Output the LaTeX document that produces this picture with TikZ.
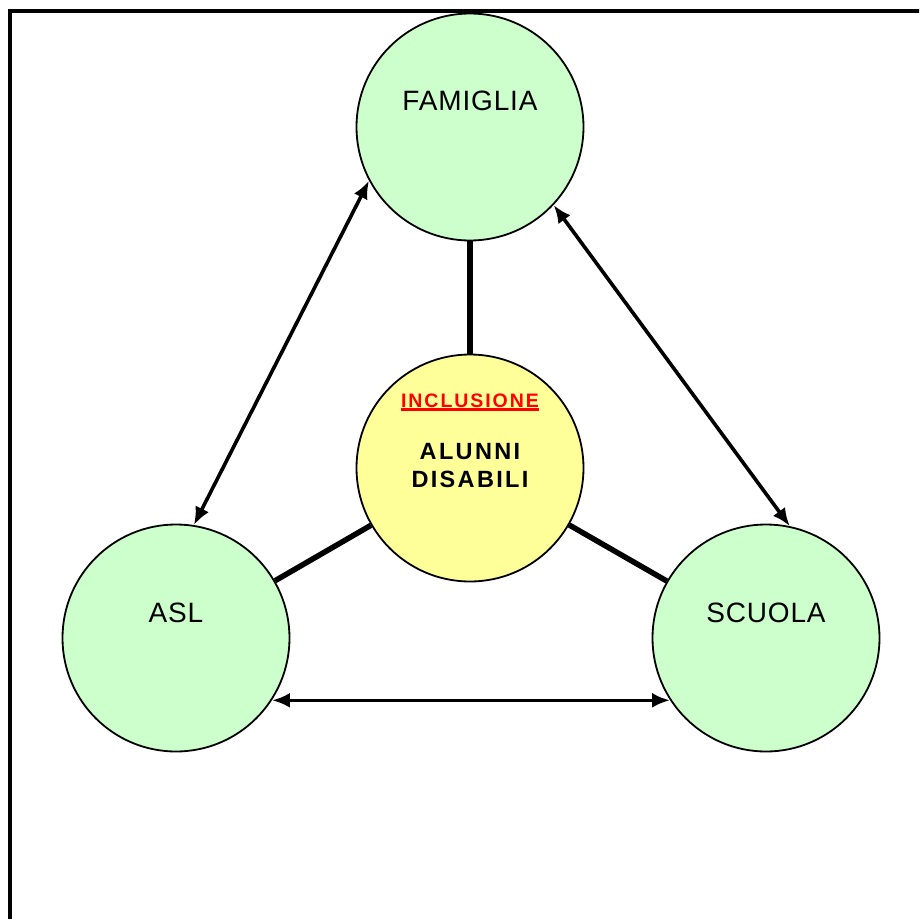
\documentclass[tikz,border=0pt]{standalone}
\usepackage{fontspec}
\setmainfont{Liberation Sans}
\newfontfamily\lsA[LetterSpace=3]{Liberation Sans}
\newfontfamily\lsB[LetterSpace=10]{Liberation Sans}
\usetikzlibrary{arrows.meta}
\definecolor{lgreen}{HTML}{CCFFCC}
\definecolor{lyellow}{HTML}{FFFF99}
\tikzset{
  outer/.style={circle, draw=black, line width=1.8pt, fill=lgreen, minimum size=227pt, inner sep=0pt},
  inner/.style={circle, draw=black, line width=1.8pt, fill=lyellow, minimum size=227pt, inner sep=0pt},
  link/.style={line width=5.5pt},
  dbl/.style={line width=3.6pt, {Latex[length=18pt,width=15pt]}-{Latex[length=18pt,width=15pt]}},
  lab/.style={anchor=base, inner sep=0pt, font=\lsA\fontsize{28}{30}\selectfont, text=black},
  clab/.style={anchor=base, inner sep=0pt, font=\lsB\bfseries\fontsize{23.5}{28}\selectfont},
}
\begin{document}
\begin{tikzpicture}[x=1pt,y=-1pt]
\clip (0,0) rectangle (919,919);
\fill[white] (0,0) rectangle (919,919);
\draw[line width=4.5pt] (10,11) rectangle (960,960);
\node[outer] (fam) at (470,127) {};
\node[inner] (inc) at (470,468) {};
\node[outer] (asl) at (176,638) {};
\node[outer] (scu) at (766,638) {};
\draw[link] (fam) -- (inc);
\draw[link] (inc) -- (asl);
\draw[link] (inc) -- (scu);
\draw[dbl] (fam.208.5) -- (asl.81.8);
\draw[dbl] (fam.-43.2) -- (scu.78.4);
\draw[dbl] (asl.-33) -- (scu.213);
\node[lab] (famt) at (470,110) {FAMIGLIA};
\node[lab] (aslt) at (176,622) {ASL};
\node[lab] (scut) at (766,622) {SCUOLA};
\node[clab, text=red, font=\lsB\bfseries\fontsize{19.5}{22}\selectfont] (inct) at (470,407) {INCLUSIONE};
\draw[red, line width=2.2pt] ([yshift=-2.5pt]inct.base west) -- ([yshift=-2.5pt]inct.base east);
\node[clab] (alt) at (470,459) {ALUNNI};
\node[clab] (dist) at (470,487) {DISABILI};
\end{tikzpicture}
\end{document}
